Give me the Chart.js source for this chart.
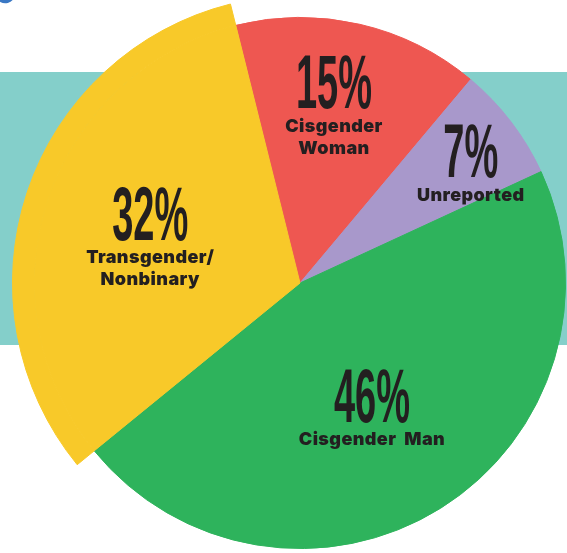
<!DOCTYPE html>
<html>
<head>
<meta charset="utf-8">
<script src="https://cdn.jsdelivr.net/npm/chart.js@4.4.1/dist/chart.umd.min.js"></script>
<style>
  html, body { margin:0; padding:0; width:567px; height:553px; overflow:hidden; background:#fff; }
  #band { position:absolute; left:0; top:72px; width:567px; height:273px; background:#84cfca; }
  #tick { position:absolute; left:-2px; top:-12px; width:16px; height:16px; background:#3a78c4; border-radius:0 0 10px 3px; transform:rotate(30deg); }
  #wrap { position:absolute; left:0; top:-17px; width:600px; height:600px; }
</style>
</head>
<body>
<div id="band"></div>
<div id="tick"></div>
<div id="wrap"><canvas id="pie" width="600" height="600"></canvas></div>
<script>
const categories = ['Cisgender Woman', 'Unreported', 'Cisgender Man', 'Transgender/Nonbinary'];
const shares = [15, 7, 46, 32];
const pctLabels = ['15%', '7%', '46%', '32%'];
const nameLines = [['Cisgender', 'Woman'], ['Unreported'], ['Cisgender  Man'], ['Transgender/', 'Nonbinary']];
const colors = ['#ee5751', '#a898cb', '#2eb35c', '#f8c929'];
// only the Transgender/Nonbinary slice sticks out past the rim
const rimColors = ['rgba(0,0,0,0)', 'rgba(0,0,0,0)', 'rgba(0,0,0,0)', '#f8c929'];

// label anchors as fractions of the pie radius from its centre
const anchors = [[0.128, -0.759], [0.643, -0.500], [0.271, 0.421], [-0.564, -0.265]];

const sliceLabels = {
  id: 'sliceLabels',
  afterDatasetsDraw(chart) {
    const ctx = chart.ctx;
    const arc = chart.getDatasetMeta(1).data[0];
    const cx = arc.x, cy = arc.y, r = arc.outerRadius;
    ctx.save();
    ctx.fillStyle = '#231f20';
    ctx.textAlign = 'center';
    pctLabels.forEach((t, i) => {
      const x = cx + anchors[i][0] * r, y = cy + anchors[i][1] * r;
      ctx.save();
      ctx.translate(x, y + 27);
      ctx.scale(0.5, 1);
      ctx.textBaseline = 'alphabetic';
      ctx.font = 'bold 76px "Liberation Sans"';
      ctx.fillText(t, 0, 0);
      ctx.restore();
      ctx.font = '900 18px Inter';
      ctx.letterSpacing = '0.4px';
      ctx.textBaseline = 'middle';
      nameLines[i].forEach((ln, k) => {
        ctx.fillText(ln, x, y + 45 + k * 22);
      });
      ctx.letterSpacing = '0px';
    });
    ctx.restore();
  }
};

new Chart(document.getElementById('pie').getContext('2d'), {
  type: 'pie',
  data: {
    labels: categories,
    datasets: [
      { data: shares, backgroundColor: rimColors, borderColor: rimColors, borderWidth: [0, 0, 0, 1], weight: 22 },
      { data: shares, backgroundColor: colors, borderColor: colors, borderWidth: 1, weight: 266 }
    ]
  },
  options: {
    responsive: false, animation: false, events: [],
    rotation: -14,
    layout: { padding: 12 },
    plugins: { legend: { display: false }, tooltip: { enabled: false } }
  },
  plugins: [sliceLabels]
});
</script>
</body>
</html>
